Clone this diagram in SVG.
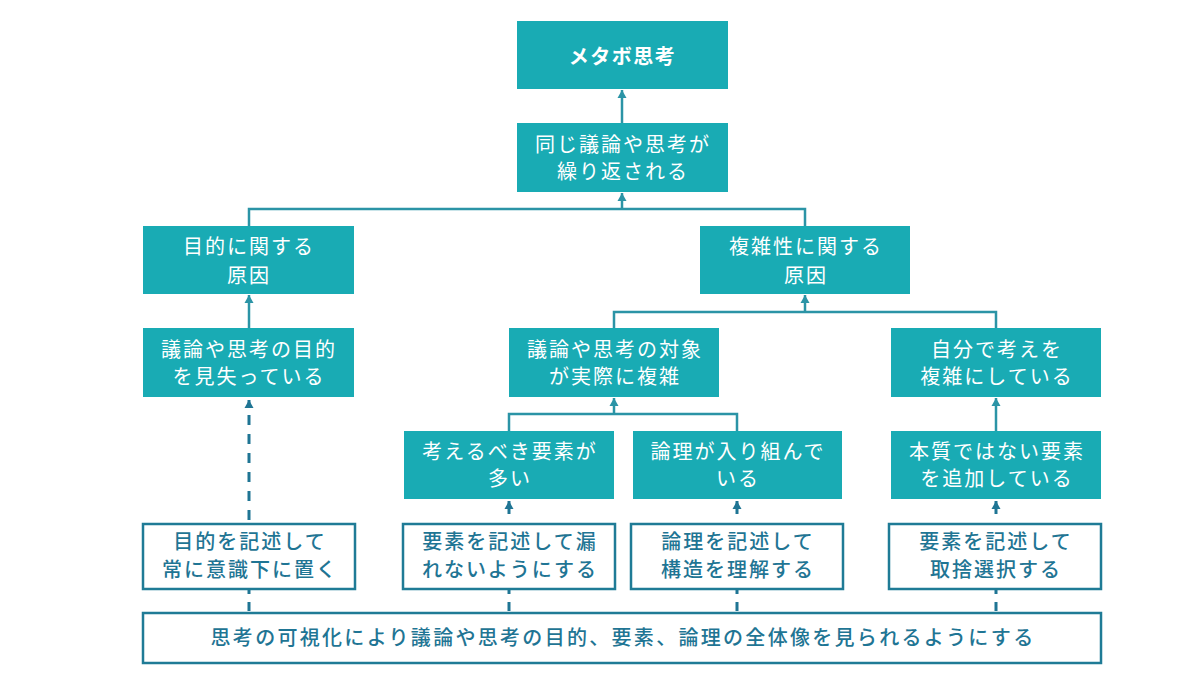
<svg xmlns="http://www.w3.org/2000/svg" width="1200" height="675" viewBox="0 0 1200 675">
<style>
text{font-family:"Noto Sans CJK JP","Noto Sans",sans-serif;text-anchor:middle}
.f rect{fill:#19abb4}
.f text{fill:#ffffff;font-size:20px;letter-spacing:2px}
.o rect{fill:#ffffff;stroke:#1f7b96;stroke-width:2.5}
.o text{fill:#1f7594;font-size:20px;font-weight:500;letter-spacing:2px}
.c{fill:none;stroke:#2b94a6;stroke-width:2.5}
.d{fill:none;stroke:#1f7594;stroke-width:3}
</style>
<defs>
<marker id="ad" markerUnits="userSpaceOnUse" markerWidth="10" markerHeight="10" refX="9" refY="5" orient="auto" viewBox="0 0 10 10">
<path d="M1,0.5 L9,5 L1,9.5 Z" fill="#1f7594"/>
</marker>
<marker id="ac" markerUnits="userSpaceOnUse" markerWidth="10" markerHeight="10" refX="9" refY="5" orient="auto" viewBox="0 0 10 10">
<path d="M1,0.5 L9,5 L1,9.5 Z" fill="#2b94a6"/>
</marker>
</defs>
<g id="connectors">
<path class="c" d="M622,123 V90" marker-end="url(#ac)"/>
<path class="c" d="M622,209 V193" marker-end="url(#ac)"/>
<path class="c" d="M249,226 V209 H805 V226"/>
<path class="c" d="M249,328 V295" marker-end="url(#ac)"/>
<path class="c" d="M805,312 V295" marker-end="url(#ac)"/>
<path class="c" d="M614,328 V312 H996 V328"/>
<path class="c" d="M996,431 V398" marker-end="url(#ac)"/>
<path class="c" d="M614,414 V398" marker-end="url(#ac)"/>
<path class="c" d="M509,431 V414 H737 V431"/>
<path class="d" d="M249,524 V400" stroke-dasharray="10 9" stroke-dashoffset="-4" marker-end="url(#ad)"/>
<path class="d" d="M509,524 V501" stroke-dasharray="13 10" stroke-dashoffset="13" marker-end="url(#ad)"/>
<path class="d" d="M737,524 V501" stroke-dasharray="13 10" stroke-dashoffset="13" marker-end="url(#ad)"/>
<path class="d" d="M996,524 V501" stroke-dasharray="13 10" stroke-dashoffset="13" marker-end="url(#ad)"/>
<path class="d" d="M249,589 V613" stroke-dasharray="5 8 9"/>
<path class="d" d="M509,589 V613" stroke-dasharray="5 8 9"/>
<path class="d" d="M737,589 V613" stroke-dasharray="5 8 9"/>
<path class="d" d="M996,589 V613" stroke-dasharray="5 8 9"/>
</g>
<g id="n-metabo" class="f"><rect x="517" y="21" width="211" height="68"/><text x="622.5" y="64" style="font-weight:700;letter-spacing:1.5px">メタボ思考</text></g>
<g id="n-repeat" class="f"><rect x="517" y="123" width="211" height="69"/><text x="623" y="152">同じ議論や思考が</text><text x="623" y="179">繰り返される</text></g>
<g id="n-purpose-cause" class="f"><rect x="143" y="226" width="211" height="68"/><text x="249" y="254">目的に関する</text><text x="249" y="283">原因</text></g>
<g id="n-complex-cause" class="f"><rect x="700" y="226" width="210" height="68"/><text x="806" y="254">複雑性に関する</text><text x="806" y="283">原因</text></g>
<g id="n-lost" class="f"><rect x="143" y="328" width="211" height="69"/><text x="249" y="357">議論や思考の目的</text><text x="249" y="384">を見失っている</text></g>
<g id="n-actual" class="f"><rect x="509" y="328" width="210" height="69"/><text x="615" y="357">議論や思考の対象</text><text x="615" y="384">が実際に複雑</text></g>
<g id="n-self" class="f"><rect x="891" y="328" width="210" height="69"/><text x="997" y="357">自分で考えを</text><text x="997" y="384">複雑にしている</text></g>
<g id="n-many" class="f"><rect x="404" y="431" width="210" height="68"/><text x="510" y="459">考えるべき要素が</text><text x="510" y="486">多い</text></g>
<g id="n-logic" class="f"><rect x="633" y="431" width="209" height="68"/><text x="738" y="459">論理が入り組んで</text><text x="738" y="486">いる</text></g>
<g id="n-nonessential" class="f"><rect x="891" y="431" width="210" height="68"/><text x="997" y="459">本質ではない要素</text><text x="997" y="486">を追加している</text></g>
<g id="n-write-purpose" class="o"><rect x="143" y="524" width="212" height="65"/><text x="250" y="549">目的を記述して</text><text x="250" y="577">常に意識下に置く</text></g>
<g id="n-write-elements" class="o"><rect x="403" y="524" width="212" height="65"/><text x="510" y="549">要素を記述して漏</text><text x="510" y="577">れないようにする</text></g>
<g id="n-write-logic" class="o"><rect x="631" y="524" width="212" height="65"/><text x="738" y="549">論理を記述して</text><text x="738" y="577">構造を理解する</text></g>
<g id="n-write-select" class="o"><rect x="889" y="524" width="212" height="65"/><text x="996" y="549">要素を記述して</text><text x="996" y="577">取捨選択する</text></g>
<g id="n-visualize" class="o"><rect x="143" y="613" width="958" height="50"/><text x="623" y="645" style="letter-spacing:2.3px">思考の可視化により議論や思考の目的、要素、論理の全体像を見られるようにする</text></g>
</svg>
